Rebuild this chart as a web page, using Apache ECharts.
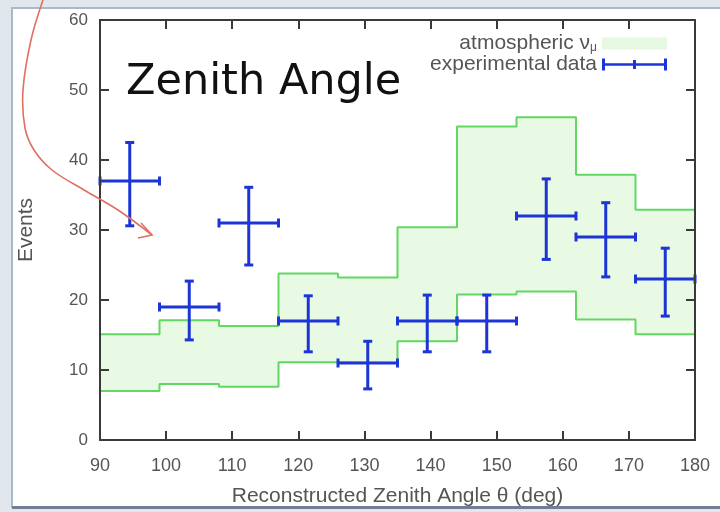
<!DOCTYPE html>
<html>
<head>
<meta charset="utf-8">
<script src="https://cdn.jsdelivr.net/npm/echarts@6/dist/echarts.min.js"></script>
<style>
html,body{margin:0;padding:0;background:#e2e7ed;}
#chart{width:720px;height:512px;}
</style>
</head>
<body>
<div id="chart"></div>
<script>
// ---- data ----
const binEdges = [90, 99, 108, 117, 126, 135, 144, 153, 162, 171, 180];
const mcUpper  = [15.1, 17.1, 16.3, 23.8, 23.2, 30.4, 44.8, 46.1, 37.9, 32.9];
const mcLower  = [7.0, 8.0, 7.6, 11.1, 11.0, 14.1, 20.8, 21.2, 17.2, 15.1];
const dataX    = [94.5, 103.5, 112.5, 121.5, 130.5, 139.5, 148.5, 157.5, 166.5, 175.5];
const dataY    = [37, 19, 31, 17, 11, 17, 17, 32, 29, 23];
const dataYHi  = [42.5, 22.7, 36.1, 20.6, 14.1, 20.7, 20.7, 37.3, 33.9, 27.4];
const dataYLo  = [30.6, 14.3, 25.0, 12.6, 7.3, 12.6, 12.6, 25.8, 23.3, 17.7];
const xTicks   = [90, 100, 110, 120, 130, 140, 150, 160, 170, 180];
const yTicks   = [0, 10, 20, 30, 40, 50, 60];

const BLUE = '#1c35d6';
const GREEN = '#62d862';
const FILL = '#e8f9e4';
const AXIS = '#3a3a3a';
const TXT = '#555';
const FONT = '"Liberation Sans", Arial, sans-serif';

// step-series points (last value repeated at the closing edge)
const lowerPts = binEdges.map((e, i) => [e, mcLower[Math.min(i, mcLower.length - 1)]]);
const upperPts = binEdges.map((e, i) => [e, mcUpper[Math.min(i, mcUpper.length - 1)]]);
const bandRows = mcUpper.map((u, i) => [binEdges[i], binEdges[i + 1], mcLower[i], u]);
const errRows = dataX.map((x, i) => [x, dataY[i], binEdges[i], binEdges[i + 1], dataYLo[i], dataYHi[i]]);

const chart = echarts.init(document.getElementById('chart'), null, {renderer: 'canvas'});

const axisCommon = {
  type: 'value', z: 10,
  axisLine: {show: true, onZero: false, lineStyle: {color: AXIS, width: 2}},
  axisTick: {show: true, inside: true, length: 9, lineStyle: {color: AXIS, width: 2}},
  splitLine: {show: false},
  minorTick: {show: false}
};

chart.setOption({
  animation: false,
  backgroundColor: 'transparent',
  grid: {left: 100, right: 25, top: 20, bottom: 68, show: true, backgroundColor: '#fff', borderWidth: 0},
  graphic: [
    {type: 'rect', z: -10, silent: true, shape: {x: 12, y: 8, width: 720, height: 499},
     style: {fill: '#fff', stroke: '#a9b9c9', lineWidth: 2}},
    {type: 'rect', z: -9, silent: true, shape: {x: 12, y: 506, width: 720, height: 3},
     style: {fill: '#6f7f97'}},
    {type: 'polyline', z: 100, silent: true,
     shape: {points: [[43, 0], [31, 40], [23, 90], [25, 128], [34, 150], [52, 170], [84, 190], [118, 210], [152, 235]], smooth: 0.35},
     style: {stroke: '#e0705f', lineWidth: 1.6, fill: null}},
    {type: 'polyline', z: 100, silent: true,
     shape: {points: [[141, 223], [152, 235], [138, 238]]},
     style: {stroke: '#e0705f', lineWidth: 1.6, fill: null}}
  ],
  title: {
    text: 'Zenith Angle',
    left: 121, top: 56,
    textStyle: {fontFamily: '"DejaVu Sans", sans-serif', fontSize: 43, fontWeight: 'normal', color: '#111'}
  },
  legend: {
    orient: 'vertical', right: 48, top: 28, align: 'right',
    itemWidth: 65, itemHeight: 12, itemGap: 0,
    textStyle: {fontFamily: FONT, fontSize: 21, color: TXT, lineHeight: 21,
      rich: {a: {fontFamily: FONT, fontSize: 21, color: TXT, lineHeight: 21},
             s: {fontFamily: FONT, fontSize: 12, color: TXT, lineHeight: 21, verticalAlign: 'bottom', padding: [7, 0, 0, 0]}}},
    formatter: function (n) { return n === 'atmospheric νμ' ? '{a|atmospheric ν}{s|μ}' : '{a|' + n + '}'; },
    data: [
      {name: 'atmospheric νμ', icon: 'rect', itemStyle: {color: '#e6f8e2', borderWidth: 0}},
      {name: 'experimental data',
       icon: 'path://M0,0h3v12h-3zM62,0h3v12h-3zM0,4.75h65v2.5h-65zM31,1.5h3v9h-3z',
       itemStyle: {color: BLUE}}
    ]
  },
  xAxis: [
    Object.assign({}, axisCommon, {
      position: 'bottom', min: 90, max: 180, interval: 10,
      name: 'Reconstructed Zenith Angle θ (deg)', nameLocation: 'middle', nameGap: 46,
      nameTextStyle: {fontFamily: FONT, fontSize: 21, color: TXT},
      axisLabel: {fontFamily: FONT, fontSize: 18, color: TXT, margin: 17,
                  formatter: v => xTicks.includes(v) ? String(v) : ''}
    }),
    Object.assign({}, axisCommon, {
      position: 'top', min: 90, max: 180, interval: 10, axisLabel: {show: false}
    })
  ],
  yAxis: [
    Object.assign({}, axisCommon, {
      position: 'left', min: 0, max: 60, interval: 10,
      name: 'Events', nameLocation: 'middle', nameGap: 63, nameRotate: 90,
      nameTextStyle: {fontFamily: FONT, fontSize: 21, color: TXT},
      axisLabel: {fontFamily: FONT, fontSize: 17, color: TXT, margin: 12,
                  formatter: v => yTicks.includes(v) ? String(v) : ''}
    }),
    Object.assign({}, axisCommon, {
      position: 'right', min: 0, max: 60, interval: 10, axisLabel: {show: false}
    })
  ],
  series: [
    {
      name: 'atmospheric νμ', type: 'custom',
      itemStyle: {color: FILL},
      data: bandRows,
      encode: {x: [0, 1], y: [2, 3]},
      z: 1,
      renderItem: function (params, api) {
        const p0 = api.coord([api.value(0), api.value(3)]);
        const p1 = api.coord([api.value(1), api.value(2)]);
        return {type: 'rect',
          shape: {x: p0[0] - 0.5, y: p0[1], width: p1[0] - p0[0] + 1, height: p1[1] - p0[1]},
          style: {fill: FILL}};
      }
    },
    {
      name: 'mc lower', type: 'line', step: 'end',
      data: lowerPts, symbol: 'none',
      lineStyle: {color: GREEN, width: 2},
      itemStyle: {color: GREEN}, z: 2
    },
    {
      name: 'mc upper', type: 'line', step: 'end',
      data: upperPts, symbol: 'none',
      lineStyle: {color: GREEN, width: 2},
      itemStyle: {color: GREEN}, z: 2
    },
    {
      name: 'experimental data', type: 'custom',
      itemStyle: {color: BLUE},
      data: errRows,
      encode: {x: [0, 2, 3], y: [1, 4, 5]},
      z: 5,
      renderItem: function (params, api) {
        const c = api.coord([api.value(0), api.value(1)]);
        const xl = api.coord([api.value(2), api.value(1)])[0];
        const xr = api.coord([api.value(3), api.value(1)])[0];
        const yl = api.coord([api.value(0), api.value(4)])[1];
        const yh = api.coord([api.value(0), api.value(5)])[1];
        const st = {stroke: BLUE, lineWidth: 3, lineCap: 'butt'};
        const cap = 4.5;
        const seg = (x1, y1, x2, y2) => ({type: 'line', shape: {x1, y1, x2, y2}, style: st});
        return {type: 'group', children: [
          seg(xl, c[1], xr, c[1]),
          seg(c[0], yh, c[0], yl),
          seg(xl, c[1] - cap, xl, c[1] + cap),
          seg(xr, c[1] - cap, xr, c[1] + cap),
          seg(c[0] - cap, yh, c[0] + cap, yh),
          seg(c[0] - cap, yl, c[0] + cap, yl)
        ]};
      }
    }
  ]
});
</script>
</body>
</html>
